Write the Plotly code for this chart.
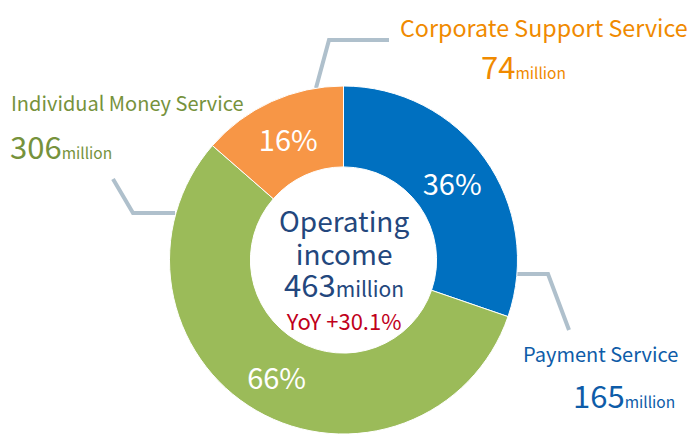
import plotly.graph_objects as go

# Data
segments = ["Payment Service", "Individual Money Service", "Corporate Support Service"]
values_million = [165, 306, 74]
pct_labels = ["36%", "66%", "16%"]
slice_colors = ["#0070C0", "#9BBB59", "#F79646"]
label_colors = ["#0E5CA8", "#76923C", "#F08A00"]
total_million = 463
yoy_text = "YoY +30.1%"

FONT = "Noto Sans CJK KR"
W, H = 690, 434

fig = go.Figure()

cx, r = 343.5, 174
top = 86
fig.add_trace(go.Pie(
    labels=segments,
    values=values_million,
    text=pct_labels,
    textinfo="text",
    textposition="inside",
    insidetextorientation="horizontal",
    textfont=dict(family=FONT, size=29, color="white"),
    marker=dict(colors=slice_colors, line=dict(color="white", width=1)),
    hole=0.535,
    sort=False,
    direction="clockwise",
    rotation=0,
    hoverinfo="label+value",
    showlegend=False,
    domain=dict(x=[(cx - r) / W, (cx + r) / W], y=[0, 1 - top / H]),
))

# invisible helper trace for pixel-based axes
fig.add_trace(go.Scatter(x=[0, W], y=[0, H], mode="markers",
                         marker=dict(opacity=0), hoverinfo="skip", showlegend=False))

line_col = "#AFC0CC"
shapes = [
    dict(type="path", path="M 389 40 L 329 40 L 316 88", xref="x", yref="y",
         line=dict(color=line_col, width=4), layer="below"),
    dict(type="path", path="M 113 179 L 133 213 L 175 213", xref="x", yref="y",
         line=dict(color=line_col, width=4), layer="below"),
    dict(type="path", path="M 516 274 L 548 274 L 569 330", xref="x", yref="y",
         line=dict(color=line_col, width=4), layer="below"),
]

def amount(v, big, small):
    return (f"<span style='font-size:{big}px'>{v}</span>"
            f"<span style='font-size:{small}px'>million</span>")

ann = []
# Individual Money Service
ann.append(dict(x=9, y=102, text=segments[1], font=dict(family=FONT, size=20, color=label_colors[1]),
                xanchor="left", yanchor="middle"))
ann.append(dict(x=8, y=145, text=amount(values_million[1], 31, 15.5),
                font=dict(family=FONT, size=15.5, color=label_colors[1]), xanchor="left", yanchor="middle"))
# Corporate Support Service
ann.append(dict(x=398, y=27, text=segments[2], font=dict(family=FONT, size=23.3, color=label_colors[2]),
                xanchor="left", yanchor="middle"))
ann.append(dict(x=479, y=65, text=amount(values_million[2], 31, 15.5),
                font=dict(family=FONT, size=15.5, color=label_colors[2]), xanchor="left", yanchor="middle"))
# Payment Service
ann.append(dict(x=521, y=353, text=segments[0], font=dict(family=FONT, size=20, color=label_colors[0]),
                xanchor="left", yanchor="middle"))
ann.append(dict(x=571, y=394, text=amount(values_million[0], 31, 15.5),
                font=dict(family=FONT, size=15.5, color=label_colors[0]), xanchor="left", yanchor="middle"))
# Center (single multi-line block)
navy = "#23477D"
center_text = (
    "<span style='font-size:28px'>Operating</span><br>"
    "<span style='font-size:28px'>income</span><br>"
    + amount(total_million, 31, 21) + "<br>"
    f"<span style='font-size:22px;color:#C0001A'>{yoy_text}</span>"
)
ann.append(dict(x=cx, y=268, text=center_text, font=dict(family=FONT, size=25, color=navy),
                xanchor="center", yanchor="middle", align="center"))

for a in ann:
    a.update(xref="x", yref="y", showarrow=False)

fig.update_layout(
    width=W, height=H,
    margin=dict(l=0, r=0, t=0, b=0),
    paper_bgcolor="white", plot_bgcolor="white",
    xaxis=dict(range=[0, W], visible=False, fixedrange=True),
    yaxis=dict(range=[H, 0], visible=False, fixedrange=True),
    shapes=shapes,
    annotations=ann,
    uniformtext=dict(minsize=29, mode="show"),
)

fig.write_html("out.html", config={"displayModeBar": False},
               post_script="document.body.style.margin='0';document.body.style.overflow='hidden';")
